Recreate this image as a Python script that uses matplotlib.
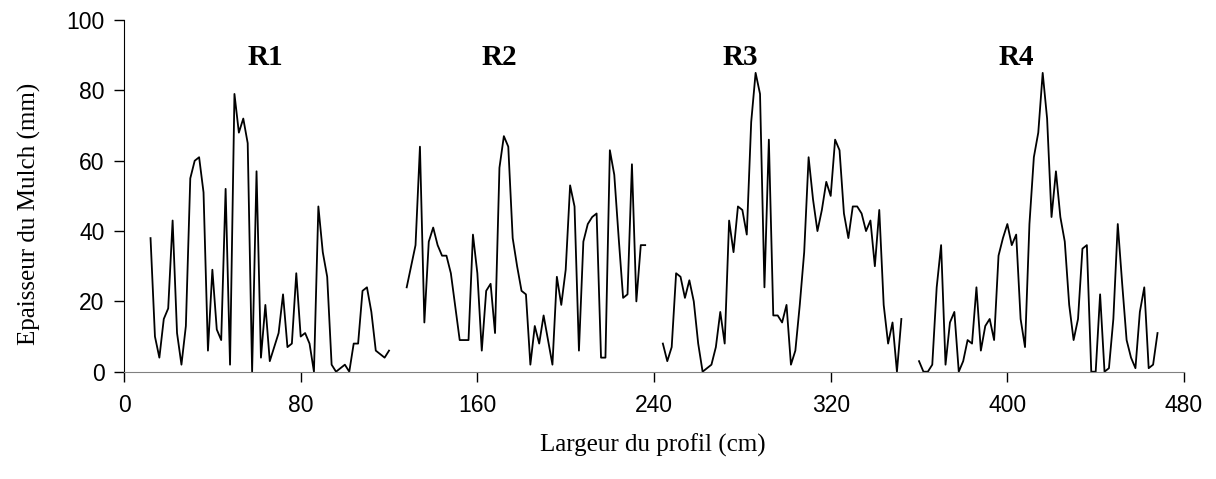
import numpy as np
import matplotlib.pyplot as plt

# Epaisseur du mulch le long du profil, 4 repetitions (pas de 2 cm)
x_r1 = np.arange(12, 121, 2)
y_r1 = [38, 10, 4, 15, 18, 43, 11, 2, 13, 55, 60, 61, 51, 6, 29, 12, 9, 52, 2, 79,
        68, 72, 65, 0, 57, 4, 19, 3, 7, 11, 22, 7, 8, 28, 10, 11, 8, 0, 47, 34,
        27, 2, 0, 1, 2, 0, 8, 8, 23, 24, 17, 6, 5, 4, 6]

x_r2 = np.arange(128, 237, 2)
y_r2 = [24, 30, 36, 64, 14, 37, 41, 36, 33, 33, 28, 18.5, 9, 9, 9, 39, 28, 6, 23, 25,
        11, 58, 67, 64, 38, 30, 23, 22, 2, 13, 8, 16, 9, 2, 27, 19, 29, 53, 47, 6,
        37, 42, 44, 45, 4, 4, 63, 56, 38, 21, 22, 59, 20, 36, 36]

x_r3 = np.arange(244, 353, 2)
y_r3 = [8, 3, 7, 28, 27, 21, 26, 20, 8, 0, 1, 2, 7, 17, 8, 43, 34, 47, 46, 39,
        71, 85, 79, 24, 66, 16, 16, 14, 19, 2, 6, 19, 34, 61, 49, 40, 46, 54, 50, 66,
        63, 45, 38, 47, 47, 45, 40, 43, 30, 46, 19, 8, 14, 0, 15]

x_r4 = np.arange(360, 469, 2)
y_r4 = [3, 0, 0, 2, 24, 36, 2, 14, 17, 0, 3, 9, 8, 24, 6, 13, 15, 9, 33, 38,
        42, 36, 39, 15, 7, 42, 61, 68, 85, 72, 44, 57, 44, 37, 19, 9, 15, 35, 36, 0,
        0, 22, 0, 1, 15, 42, 25, 9, 4, 1, 17, 24, 1, 2, 11]

labels = ['R1', 'R2', 'R3', 'R4']
label_x = [64, 170, 279, 404]

fig = plt.figure(figsize=(12.16, 4.79), dpi=100)
ax = fig.add_axes([0.102, 0.224, 0.8717, 0.734])

for xs, ys in [(x_r1, y_r1), (x_r2, y_r2), (x_r3, y_r3), (x_r4, y_r4)]:
    ax.plot(xs, ys, color='black', lw=1.3)

for lab, lx in zip(labels, label_x):
    ax.text(lx, 89.5, lab, ha='center', va='center', fontsize=21, fontweight='bold',
            family='Liberation Serif')

ax.set_xlim(0, 480)
ax.set_ylim(0, 100)
ax.set_xticks(range(0, 481, 80))
ax.set_yticks(range(0, 101, 20))
ax.spines['top'].set_visible(False)
ax.spines['right'].set_visible(False)
ax.spines['left'].set_color('black')
ax.spines['bottom'].set_color('#808080')
ax.tick_params(direction='out', length=7, width=1, labelsize=16.5, pad=7)
ax.tick_params(axis='x', pad=9)
for t in ax.get_xticklabels() + ax.get_yticklabels():
    t.set_family('Liberation Sans')

ax.set_xlabel('Largeur du profil (cm)', fontsize=18, family='Liberation Serif')
ax.set_ylabel('Epaisseur du Mulch (mm)', fontsize=18, family='Liberation Serif')
ax.xaxis.set_label_coords(0.499, -0.175)
ax.yaxis.set_label_coords(-0.078, 0.45)

fig.savefig('out.png', dpi=100)
